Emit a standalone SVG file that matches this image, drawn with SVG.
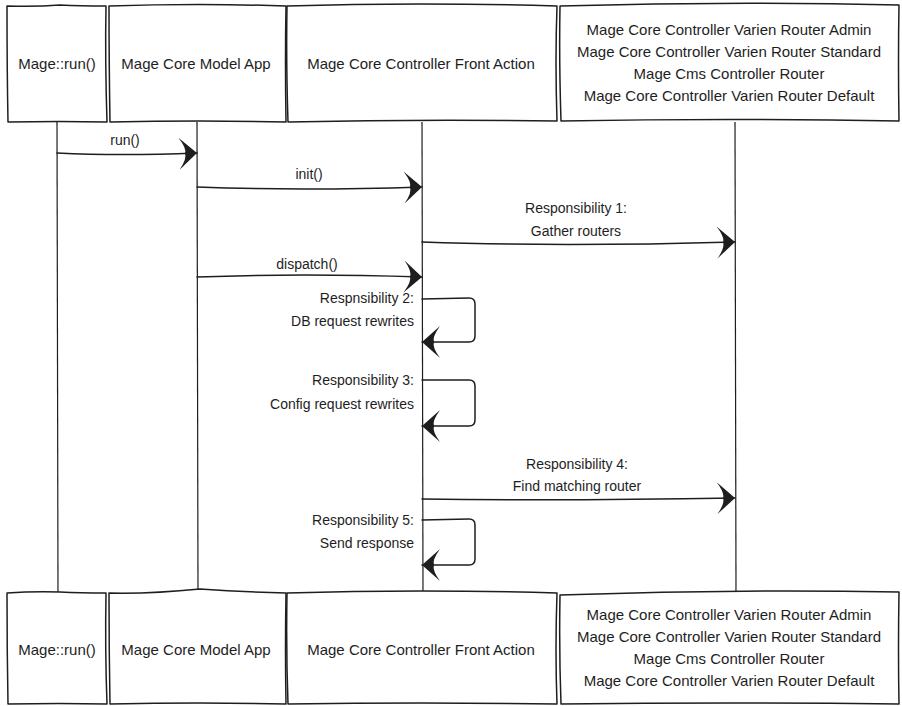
<svg xmlns="http://www.w3.org/2000/svg" width="902" height="706" viewBox="0 0 902 706">
<defs>
<marker id="ah" markerUnits="userSpaceOnUse" markerWidth="40" markerHeight="40" viewBox="-20 -20 40 40" refX="0" refY="0" orient="auto">
<path d="M0,0 L-18,-16 Q-10,-5 -12,0 Q-10,5 -18,16 Z" fill="#1e1e1e"/>
</marker>
<style>
.box{fill:#fff;stroke:#1e1e1e;stroke-width:1.5;stroke-linejoin:round}
.life{fill:none;stroke:#1e1e1e;stroke-width:1.2}
.msg{fill:none;stroke:#1e1e1e;stroke-width:1.5;stroke-linecap:round;marker-end:url(#ah)}
text{font-family:"Liberation Sans",Arial,sans-serif;fill:#1e1e1e}
.t{font-size:15px;text-anchor:middle}
.m{font-size:14px;text-anchor:middle}
.r{font-size:14px;text-anchor:end}
</style>
</defs>
<g id="lifelines">
<path class="life" d="M57,122 L58,593"/>
<path class="life" d="M197,122 L198,593"/>
<path class="life" d="M422,122 L423,593"/>
<path class="life" d="M735,122 L736,593"/>
</g>
<g id="connectors">
<path class="msg" d="M57,153 Q120,156 197,153"/>
<path class="msg" d="M197,187 Q300,191 422,187"/>
<path class="msg" d="M422,242 Q560,247 735,242"/>
<path class="msg" d="M197,277 Q300,273 422,277"/>
<path class="msg" d="M422,299 L469,298 Q475,298 475,304 L475,336 Q475,342 469,342 L422,342"/>
<path class="msg" d="M422,380 L469,380 Q475,380 475,386 L475,420 Q475,426 469,426 L422,426"/>
<path class="msg" d="M422,499 Q560,501 735,498"/>
<path class="msg" d="M422,520 L469,519 Q475,519 475,525 L475,559 Q475,565 469,565 L422,565"/>
</g>
<g id="labels">
<text class="m" x="125" y="145">run()</text>
<text class="m" x="309" y="179">init()</text>
<text class="m" x="576" y="213">Responsibility 1:</text>
<text class="m" x="576" y="236">Gather routers</text>
<text class="m" x="307" y="269">dispatch()</text>
<text class="r" x="414" y="303">Respnsibility 2:</text>
<text class="r" x="414" y="326">DB request rewrites</text>
<text class="r" x="414" y="385">Responsibility 3:</text>
<text class="r" x="414" y="409">Config request rewrites</text>
<text class="m" x="577" y="469">Responsibility 4:</text>
<text class="m" x="577" y="491">Find matching router</text>
<text class="r" x="414" y="525">Responsibility 5:</text>
<text class="r" x="414" y="548">Send response</text>
</g>
<g id="top-run">
<path class="box" d="M7,6 Q35,7 60,5 Q80,6 106,6 Q105,60 107,122 Q60,121 8,122 Q7,70 7,6 Z"/>
<text class="t" x="57" y="69">Mage::run()</text>
</g>
<g id="top-app">
<path class="box" d="M109,6 Q200,3 286,6 Q285,60 286,122 Q200,120 110,122 Q109,60 109,6 Z"/>
<text class="t" x="196" y="69">Mage Core Model App</text>
</g>
<g id="top-front">
<path class="box" d="M287,6 Q420,2 557,6 Q555,60 557,121 Q420,119 288,122 Q286,60 287,6 Z"/>
<text class="t" x="421" y="69">Mage Core Controller Front Action</text>
</g>
<g id="top-routers">
<path class="box" d="M560,6 Q730,1 899,5 Q898,60 899,121 Q730,118 561,121 Q559,60 560,6 Z"/>
<text class="t" x="729" y="35">Mage Core Controller Varien Router Admin</text>
<text class="t" x="729" y="57">Mage Core Controller Varien Router Standard</text>
<text class="t" x="729" y="79">Mage Cms Controller Router</text>
<text class="t" x="729" y="101">Mage Core Controller Varien Router Default</text>
</g>
<g id="bottom-run">
<path class="box" d="M7,593 Q35,591 60,592 Q80,593 106,593 Q105,650 107,704 Q60,703 8,704 Q7,650 7,593 Z"/>
<text class="t" x="57" y="655">Mage::run()</text>
</g>
<g id="bottom-app">
<path class="box" d="M109,593 Q150,594 200,589 Q240,592 286,593 Q285,650 286,704 Q200,702 110,704 Q109,650 109,593 Z"/>
<text class="t" x="196" y="655">Mage Core Model App</text>
</g>
<g id="bottom-front">
<path class="box" d="M287,593 Q420,589 557,593 Q555,650 557,704 Q420,702 288,704 Q286,650 287,593 Z"/>
<text class="t" x="421" y="655">Mage Core Controller Front Action</text>
</g>
<g id="bottom-routers">
<path class="box" d="M560,595 Q730,589 899,592 Q898,650 899,704 Q730,702 561,704 Q559,650 560,595 Z"/>
<text class="t" x="729" y="620">Mage Core Controller Varien Router Admin</text>
<text class="t" x="729" y="642">Mage Core Controller Varien Router Standard</text>
<text class="t" x="729" y="664">Mage Cms Controller Router</text>
<text class="t" x="729" y="686">Mage Core Controller Varien Router Default</text>
</g>
</svg>
